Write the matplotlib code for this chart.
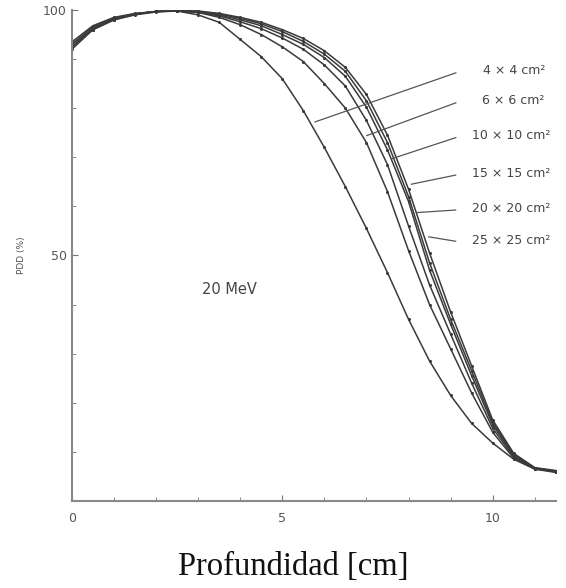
import matplotlib
matplotlib.use("Agg")
import matplotlib.pyplot as plt

depth = [0, 0.5, 1, 1.5, 2, 2.5, 3, 3.5, 4, 4.5, 5, 5.5, 6, 6.5, 7, 7.5,
         8, 8.5, 9, 9.5, 10, 10.5, 11, 11.5]

pdd_4x4 = [92.5, 96, 98, 99, 99.6, 99.8, 99.0, 97.5, 94, 90.5, 86, 79.5, 72,
           64, 55.5, 46.5, 37, 28.5, 21.5, 15.8, 11.8, 8.5, 6.5, 5.8]
pdd_6x6 = [93, 96.5, 98.3, 99.2, 99.7, 99.8, 99.5, 98.5, 97, 95, 92.5, 89.5,
           85, 80, 73, 63, 51, 40, 31, 22, 14, 8.7, 6.5, 6]
pdd_10x10 = [93.5, 96.8, 98.5, 99.3, 99.7, 99.8, 99.5, 98.8, 97.6, 96.2, 94.3,
             92, 88.8, 84.5, 77.5, 68.5, 56, 44, 34, 24, 14.8, 9, 6.6, 6.1]
pdd_15x15 = [93, 96.5, 98.3, 99.2, 99.7, 99.8, 99.6, 99, 98, 96.8, 95, 93,
             90.3, 86.5, 80.2, 71.5, 61, 47, 36, 25.5, 15.5, 9.2, 6.6, 6]
pdd_20x20 = [92.5, 96.2, 98.2, 99.2, 99.7, 99.9, 99.7, 99.2, 98.3, 97.2, 95.6,
             93.6, 91, 87.5, 81.5, 73, 62, 48.5, 37, 26.5, 16, 9.5, 6.7, 6.1]
pdd_25x25 = [92, 96, 98, 99.1, 99.7, 99.9, 99.8, 99.3, 98.5, 97.5, 96, 94.2,
             91.7, 88.3, 82.8, 74.5, 63.5, 50.5, 38.5, 27.5, 16.5, 9.7, 6.8, 6.2]

field_labels = ["4 × 4 cm²", "6 × 6 cm²", "10 × 10 cm²", "15 × 15 cm²",
                "20 × 20 cm²", "25 × 25 cm²"]
series = [pdd_4x4, pdd_6x6, pdd_10x10, pdd_15x15, pdd_20x20, pdd_25x25]

# leader line endpoints (on curve) and label anchor positions
leader_xy = [(5.71, 77.0), (6.94, 74.2), (7.53, 69.5), (8.0, 64.4),
             (8.13, 58.7), (8.41, 53.9)]
label_xy = [(9.19, 87.4), (9.19, 81.3), (9.19, 74.2), (9.19, 66.5),
            (9.19, 59.3), (9.19, 52.8)]
text_x = [9.76, 9.74, 9.52, 9.52, 9.52, 9.52]

fig = plt.figure(figsize=(5.66, 5.88), dpi=100)
ax = fig.add_axes([0.127, 0.148, 0.855, 0.835])

for ys in series:
    ax.plot(depth, ys, color="#3a3a3a", lw=1.1, marker="o", ms=1.2)

for lab, (px, py), (lx, ly), tx in zip(field_labels, leader_xy, label_xy, text_x):
    ax.annotate("", xy=(px, py), xytext=(lx, ly),
                arrowprops=dict(arrowstyle="-", color="#555555", lw=0.9))
    ax.text(tx, ly + 0.3, lab, fontsize=9, color="#444444",
            va="center", ha="left")

ax.text(3.1, 43, "20 MeV", fontsize=10.5, color="#444444", va="center", ha="left")

ax.set_xlim(0, 11.5)
ax.set_ylim(0, 100)
ax.set_xticks([0, 5, 10])
ax.set_xticks(range(0, 12), minor=True)
ax.set_yticks([50, 100])
ax.set_yticks(range(0, 101, 10), minor=True)
ax.tick_params(axis="both", which="both", direction="in", colors="#777777",
               labelcolor="#555555", labelsize=9)
ax.tick_params(axis="x", pad=8)
ax.tick_params(which="major", length=4)
ax.tick_params(which="minor", length=3)
for s in ["top", "right"]:
    ax.spines[s].set_visible(False)
for s in ["left", "bottom"]:
    ax.spines[s].set_color("#888888")
    ax.spines[s].set_linewidth(1.5)

ax.set_ylabel("PDD (%)", fontsize=6.5, color="#555555", labelpad=12)
fig.text(0.518, 0.036, "Profundidad [cm]", fontsize=23.5, family="Liberation Serif",
         color="#111111", ha="center", va="center")

fig.savefig("out.png", dpi=100)
